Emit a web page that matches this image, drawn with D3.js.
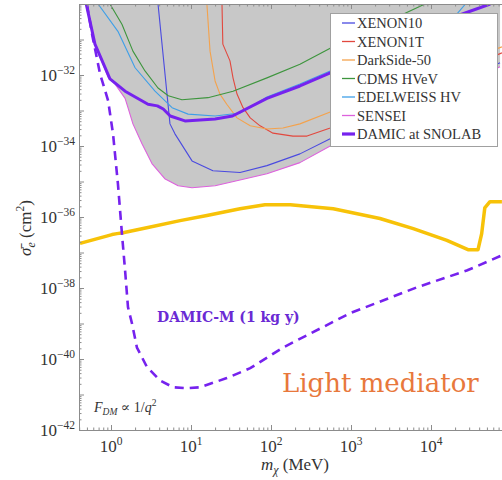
<!DOCTYPE html>
<html>
<head>
<meta charset="utf-8">
<script src="https://cdn.jsdelivr.net/npm/d3@7"></script>
<style>
  body { margin: 0; background: #fff; }
  text { font-family: "Liberation Serif", "DejaVu Serif", serif; }
</style>
</head>
<body>
<div id="chart_container"></div>
<script>
// data: [mass (MeV), cross section (cm^2)]
const xenon10 = [[3.87, 1e-30], [5.46, 4.2e-34], [6.3, 2.2e-34], [10.3, 3.8e-35], [18.8, 2e-35],
  [41, 1.8e-35], [89, 2.8e-35], [230, 6e-35], [550, 1.6e-34], [73000, 2.2e-32]];
const xenon1t = [[24.4, 1e-30], [25, 7.4e-32], [30.7, 2.5e-32], [33.5, 8.3e-33], [37.6, 2.9e-33],
  [44.7, 1.2e-33], [55, 6.2e-34], [73, 3.7e-34], [106, 2.3e-34], [188, 1.9e-34], [282, 1.9e-34],
  [550, 3.2e-34], [77000, 4.2e-32]];
const darkside50 = [[15.8, 1e-30], [17.3, 4.7e-32], [20, 6.8e-33], [23, 2.9e-33], [28, 1.5e-33],
  [37.6, 6.2e-34], [55, 3.7e-34], [89, 3e-34], [141, 3.2e-34], [230, 4.2e-34], [550, 9.1e-34],
  [77000, 6.2e-32]];
const cdmsHVeV = [[0.97, 1e-30], [1.37, 2.7e-31], [1.88, 4.7e-32], [2.66, 1.3e-32], [3.87, 4.3e-33],
  [5.2, 2.6e-33], [7.7, 2e-33], [16.3, 2.3e-33], [33.5, 3.5e-33], [89, 8.3e-33], [230, 2e-32],
  [550, 5.7e-32], [8400, 1e-30]];
const edelweissHV = [[0.69, 1e-30], [1.22, 1.7e-31], [2.0, 1.6e-32], [3.55, 3.5e-33], [5.8, 1.2e-33],
  [9.2, 7.9e-34], [20, 7e-34], [41, 8.5e-34], [89, 2.4e-33], [230, 5.6e-33], [550, 1.3e-32],
  [21000, 5.2e-31], [27000, 1e-30]];
const sensei = [[0.5, 1e-30], [0.63, 7.4e-32], [0.92, 8.7e-33], [1.12, 5.6e-33], [1.5, 2.2e-33],
  [1.63, 1.2e-33], [1.88, 4.2e-34], [2.44, 1.15e-34], [3.25, 3.2e-35], [4.7, 1.2e-35],
  [6.9, 7.6e-36], [10.3, 6.7e-36], [20, 7.6e-36], [33, 9.8e-36], [89, 1.65e-35], [230, 3.4e-35],
  [550, 1e-34], [73000, 1.7e-32]];
const damicSnolab = [[0.49, 1e-30], [0.63, 7.4e-32], [0.97, 7.8e-33], [1.5, 3.5e-33], [2.9, 1.5e-33],
  [3.8, 1.35e-33], [4.5, 1.1e-33], [5.5, 7e-34], [8.4, 5.1e-34], [20, 5.8e-34], [33, 7e-34],
  [89, 2.2e-33], [230, 4.9e-33], [550, 1.15e-32], [21000, 4.6e-31], [55000, 1e-30]];
const damicM = [[0.5, 1e-30], [0.58, 1.4e-31], [0.73, 1.07e-32], [0.92, 1.9e-33], [1.06, 2.2e-34],
  [1.22, 8.7e-36], [1.37, 3.4e-37], [1.5, 3.1e-38], [1.63, 2.9e-39], [1.83, 1e-39], [2.11, 2.1e-40],
  [2.82, 5.9e-41], [4.1, 2.5e-41], [5.96, 1.6e-41], [8.9, 1.5e-41], [13, 1.6e-41], [28, 2.9e-41],
  [55, 5.5e-41], [141, 2.1e-40], [975, 1.95e-39], [6700, 1.05e-38], [28000, 3.1e-38], [77000, 8.3e-38]];
const yellowLimit = [[0.41, 1.8e-37], [1.03, 3.2e-37], [1.19, 3.4e-37], [1.41, 3.6e-37], [2.8, 5e-37],
  [7.3, 7.9e-37], [15.8, 1.1e-36], [41, 1.7e-36], [84, 2.2e-36], [174, 2.2e-36], [600, 1.7e-36],
  [2300, 9.1e-37], [6000, 4.7e-37], [15800, 2.2e-37], [29000, 1.2e-37], [38700, 1.2e-37],
  [43000, 3.4e-37], [47000, 1.8e-36], [54600, 2.7e-36], [77000, 2.7e-36]];

const legendNames = ["XENON10", "XENON1T", "DarkSide-50", "CDMS HVeV", "EDELWEISS HV", "SENSEI", "DAMIC at SNOLAB"];
const xTickExps = [0, 1, 2, 3, 4];
const yTickExps = [-42, -40, -38, -36, -34, -32];

// chart dimensions
const W = 502, H = 480;
const PLOT = { left: 79, right: 502, top: 4, bottom: 430 };

const series = [
  { data: xenon10, color: "#4a4ae0", width: 1.1 },
  { data: xenon1t, color: "#e2483e", width: 1.1 },
  { data: darkside50, color: "#f4a24c", width: 1.1 },
  { data: cdmsHVeV, color: "#3d953d", width: 1.1 },
  { data: edelweissHV, color: "#3e9fe8", width: 1.1 },
  { data: sensei, color: "#dd62dd", width: 1.1 },
  { data: damicSnolab, color: "#7622ee", width: 3 },
];

const x = d3.scaleLog().domain([Math.pow(10, -0.4), Math.pow(10, 4.8875)]).range([PLOT.left, PLOT.right]);
const y = d3.scaleLog().domain([1e-42, 1e-30]).range([PLOT.bottom, PLOT.top]);

const svg = d3.select("#chart_container").append("svg").attr("width", W).attr("height", H);

svg.append("clipPath").attr("id", "plotclip").append("rect")
  .attr("x", PLOT.left).attr("y", PLOT.top)
  .attr("width", PLOT.right - PLOT.left).attr("height", PLOT.bottom - PLOT.top);

const plot = svg.append("g").attr("clip-path", "url(#plotclip)");

// excluded region: everything above the lowest curve (SENSEI)
plot.append("path")
  .datum(sensei)
  .attr("fill", "#c8c8c8")
  .attr("d", d3.area().x((d) => x(d[0])).y0((d) => y(d[1])).y1(PLOT.top - 5));

const line = d3.line().x((d) => x(d[0])).y((d) => y(d[1]));

series.forEach((s) => {
  plot.append("path").datum(s.data)
    .attr("fill", "none").attr("stroke", s.color).attr("stroke-width", s.width)
    .attr("stroke-linejoin", "round").attr("d", line);
});

plot.append("path").datum(yellowLimit)
  .attr("fill", "none").attr("stroke", "#f7c208").attr("stroke-width", 3.5)
  .attr("stroke-linejoin", "round").attr("d", line);

plot.append("path").datum(damicM)
  .attr("fill", "none").attr("stroke", "#7622ee").attr("stroke-width", 2.6)
  .attr("stroke-dasharray", "9,6").attr("d", line);

// axes with inward ticks
const axisColor = "#8c8c8c";
const xMinor = [], yMinor = [];
for (let e = -1; e <= 4; e++) for (let k = 2; k <= 9; k++) {
  const v = k * Math.pow(10, e);
  if (v > x.domain()[0] && v < x.domain()[1]) xMinor.push(v);
}
for (let e = -42; e < -30; e++) for (let k = 2; k <= 9; k++) yMinor.push(k * Math.pow(10, e));
const xMajor = xTickExps.map((e) => Math.pow(10, e));
const yMajor = d3.range(-42, -29).map((e) => Math.pow(10, e));

const styleAxis = (g) => {
  g.selectAll("path, line").attr("stroke", axisColor);
  g.selectAll("text").remove();
};

svg.append("g").attr("transform", `translate(0,${PLOT.bottom})`)
  .call(d3.axisBottom(x).tickValues(xMinor).tickSize(-2.5).tickSizeOuter(0)).call(styleAxis);
svg.append("g").attr("transform", `translate(0,${PLOT.bottom})`)
  .call(d3.axisBottom(x).tickValues(xMajor).tickSize(-5).tickSizeOuter(0)).call(styleAxis);
svg.append("g").attr("transform", `translate(0,${PLOT.top})`)
  .call(d3.axisTop(x).tickValues(xMinor).tickSize(-2.5).tickSizeOuter(0)).call(styleAxis);
svg.append("g").attr("transform", `translate(0,${PLOT.top})`)
  .call(d3.axisTop(x).tickValues(xMajor).tickSize(-5).tickSizeOuter(0)).call(styleAxis);
svg.append("g").attr("transform", `translate(${PLOT.left},0)`)
  .call(d3.axisLeft(y).tickValues(yMinor).tickSize(-2.5).tickSizeOuter(0)).call(styleAxis);
svg.append("g").attr("transform", `translate(${PLOT.left},0)`)
  .call(d3.axisLeft(y).tickValues(yMajor).tickSize(-5).tickSizeOuter(0)).call(styleAxis);

// tick labels as 10^n
const labelColor = "#333";
xTickExps.forEach((e) => {
  const t = svg.append("text").attr("x", x(Math.pow(10, e))).attr("y", 452)
    .attr("text-anchor", "middle").attr("fill", labelColor).style("font-size", "17px");
  t.append("tspan").text("10");
  t.append("tspan").attr("dy", -7).style("font-size", "11.5px").text(String(e));
});
yTickExps.forEach((e) => {
  const t = svg.append("text").attr("x", 75).attr("y", y(Math.pow(10, e)) + 6)
    .attr("text-anchor", "end").attr("fill", labelColor).style("font-size", "17px");
  t.append("tspan").text("10");
  t.append("tspan").attr("dy", -7).style("font-size", "11.5px").text("\u2212" + Math.abs(e));
});

// axis titles
const xt = svg.append("text").attr("x", 295).attr("y", 470).attr("text-anchor", "middle")
  .attr("fill", labelColor).style("font-size", "17px");
xt.append("tspan").style("font-style", "italic").text("m");
xt.append("tspan").attr("dy", 4).style("font-size", "12px").style("font-style", "italic").text("\u03c7");
xt.append("tspan").attr("dy", -4).text(" (MeV)");

const yt = svg.append("text").attr("transform", "translate(31,228) rotate(-90)")
  .attr("text-anchor", "middle").attr("fill", labelColor).style("font-size", "17px");
yt.append("tspan").style("font-style", "italic").text("\u03c3\u0304");
yt.append("tspan").attr("dy", 4).style("font-size", "12px").style("font-style", "italic").text("e");
yt.append("tspan").attr("dy", -4).text(" (cm");
yt.append("tspan").attr("dy", -7).style("font-size", "11.5px").text("2");
yt.append("tspan").attr("dy", 7).text(")");

// annotations
svg.append("text").attr("x", 157).attr("y", 322).attr("fill", "#6a2ad4")
  .style("font-family", "'DejaVu Serif', serif")
  .style("font-size", "14px").style("font-weight", 700).text("DAMIC-M (1 kg y)");

svg.append("text").attr("x", 282).attr("y", 392).attr("fill", "#e8783c")
  .style("font-family", "'DejaVu Serif', serif")
  .style("font-size", "26px").text("Light mediator");

const fd = svg.append("text").attr("x", 94).attr("y", 412).attr("fill", labelColor).style("font-size", "14px");
fd.append("tspan").style("font-style", "italic").text("F");
fd.append("tspan").attr("dy", 3).style("font-size", "9.5px").style("font-style", "italic").text("DM");
fd.append("tspan").attr("dy", -3).text(" \u221d 1/");
fd.append("tspan").style("font-style", "italic").text("q");
fd.append("tspan").attr("dy", -6).style("font-size", "9.5px").text("2");

// legend
const legend = svg.append("g");
legend.append("rect").attr("x", 330.5).attr("y", 13.5).attr("width", 167).attr("height", 133)
  .attr("fill", "#fff").attr("stroke", "#a0a0a0").attr("stroke-width", 1);
legendNames.forEach((name, i) => {
  const cy = 23 + i * 18.5;
  legend.append("line").attr("x1", 342).attr("x2", 355).attr("y1", cy).attr("y2", cy)
    .attr("stroke", series[i].color).attr("stroke-width", series[i].width + 0.2);
  legend.append("text").attr("x", 357).attr("y", cy + 5).attr("fill", labelColor)
    .style("font-size", "14.5px").text(name);
});
</script>
</body>
</html>
